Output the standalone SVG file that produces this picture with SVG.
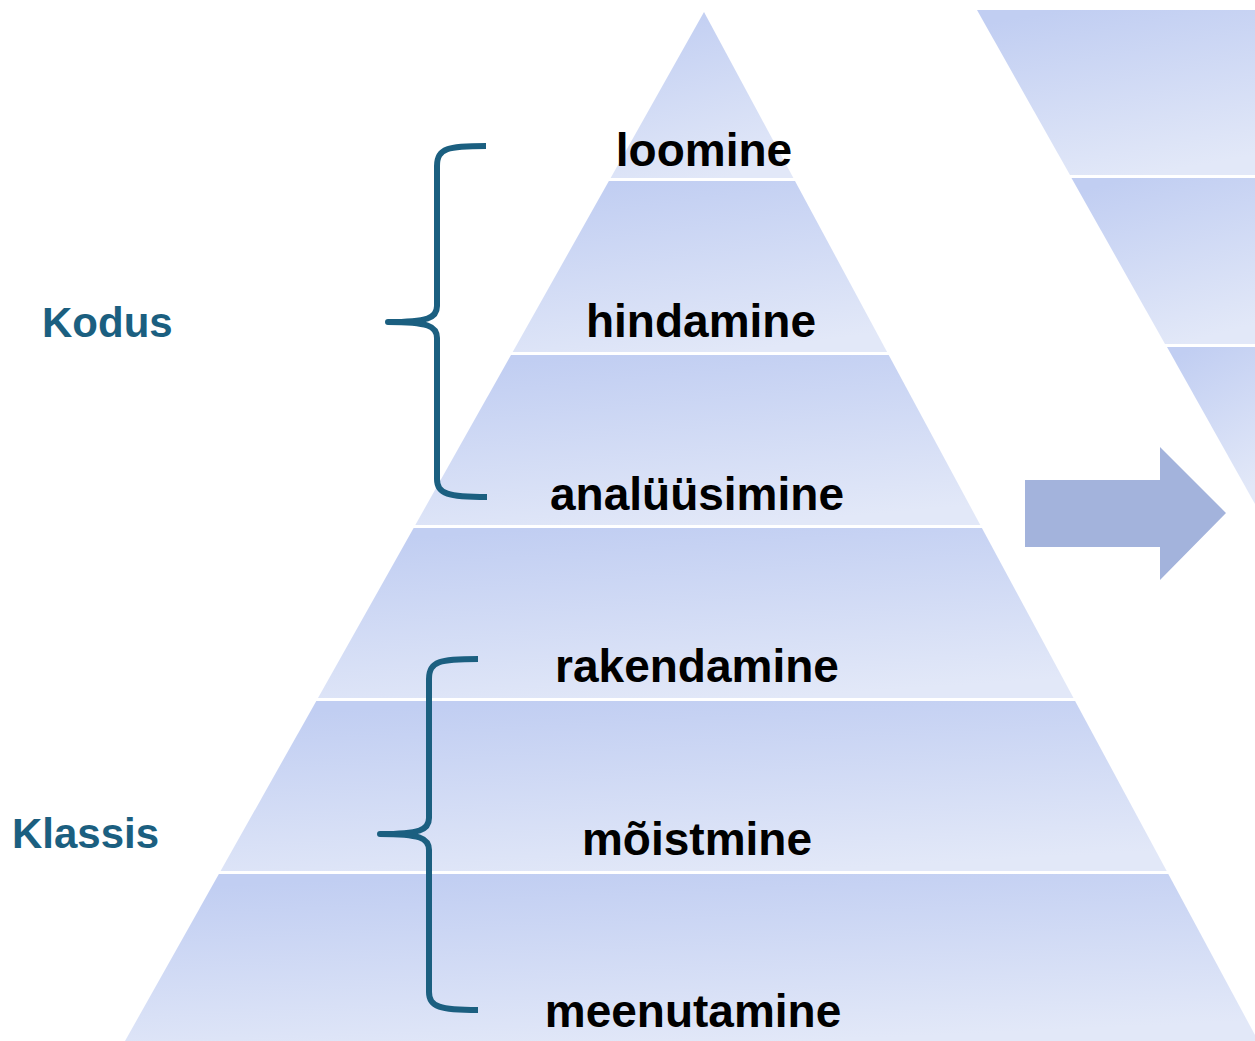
<svg xmlns="http://www.w3.org/2000/svg" width="1255" height="1041" viewBox="0 0 1255 1041">
<defs>
<linearGradient id="g" x1="0.3" y1="0" x2="0.6" y2="1">
<stop offset="0" stop-color="#c1cef2"/>
<stop offset="1" stop-color="#e2e8f8"/>
</linearGradient>
<style>
.band{fill:url(#g);}
.lbl{font-family:"Liberation Sans",Arial,sans-serif;font-weight:bold;font-size:46px;fill:#000;text-anchor:middle;}
.side{font-family:"Liberation Sans",Arial,sans-serif;font-weight:bold;font-size:42px;fill:#1b5f80;}
.brace{fill:none;stroke:#1b5f80;stroke-width:6;stroke-linecap:butt;stroke-linejoin:round;}
</style>
</defs>
<rect width="1255" height="1041" fill="#fff"/>
<g id="pyramid">
<g id="band-loomine"><polygon class="band" points="704,12 793.4,178 610.6,178"/><text class="lbl" x="704" y="166">loomine</text></g>
<g id="band-hindamine"><polygon class="band" points="608.9,181 795,181 887.1,352 512.7,352"/><text class="lbl" x="701" y="337">hindamine</text></g>
<g id="band-analuusimine"><polygon class="band" points="511,355 888.7,355 980.3,525 415.3,525"/><text class="lbl" x="697" y="510">analüüsimine</text></g>
<g id="band-rakendamine"><polygon class="band" points="413.6,528 981.9,528 1073.5,698 318,698"/><text class="lbl" x="697" y="682">rakendamine</text></g>
<g id="band-moistmine"><polygon class="band" points="316.3,701 1075.1,701 1166.7,871 220.6,871"/><text class="lbl" x="697" y="855">mõistmine</text></g>
<g id="band-meenutamine"><polygon class="band" points="218.9,874 1168.3,874 1258.2,1041 125,1041"/><text class="lbl" x="693" y="1027">meenutamine</text></g>
</g>
<g id="pyramid2">
<polygon class="band" points="977,10 1255,10 1255,175 1070,175"/>
<polygon class="band" points="1071.5,178 1255,178 1255,344 1165,344"/>
<polygon class="band" points="1167,347 1255,347 1255,504"/>
</g>
<g id="arrow">
<polygon points="1025,480 1160,480 1160,447 1226,513 1160,580 1160,547 1025,547" fill="#a3b3dc"/>
</g>
<g id="connectors">
<path class="brace" d="M486,146 C448,146 437,148 437,166 L437,306 C437,318 428,322 388,322 C428,322 437,326 437,338 L437,479 C437,494 448,497 487,497"/>
<path class="brace" d="M478,659 C440,659 429,661 429,679 L429,818 C429,830 420,834 380,834 C420,834 429,838 429,850 L429,992 C429,1007 440,1010 478,1010"/>
</g>
<g id="label-kodus"><text class="side" x="42" y="337">Kodus</text></g>
<g id="label-klassis"><text class="side" x="12" y="848">Klassis</text></g>
</svg>
